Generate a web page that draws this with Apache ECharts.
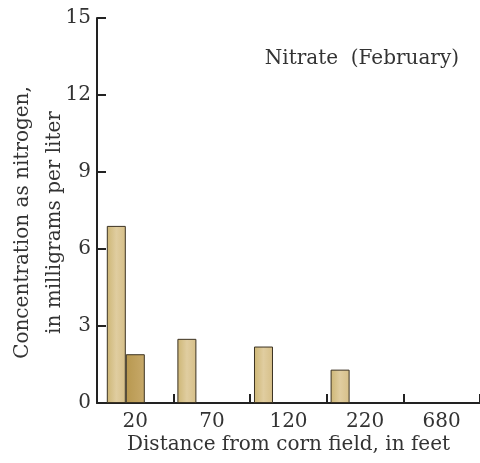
<!DOCTYPE html>
<html>
<head>
<meta charset="utf-8">
<script src="https://cdn.jsdelivr.net/npm/echarts@6/dist/echarts.min.js"></script>
<style>
html,body{margin:0;padding:0;background:#fff;}
#chart{width:480px;height:463px;}
</style>
</head>
<body>
<div id="chart"></div>
<script>
// Data
const categories = ['20', '70', '120', '220', '680'];
const lightValues = [6.9, 2.5, 2.2, 1.3, null];
const darkValues = [1.9, null, null, null, null];
const yMin = 0, yMax = 15, yInterval = 3;
const chartTitle = 'Nitrate  (February)';
const xName = 'Distance from corn field, in feet';
const yName = 'Concentration as nitrogen,\nin milligrams per liter';

const FONT = 'DejaVu Serif';
const FS = 20;
const TXT = '#333';
const AX = '#222';

const lightFill = new echarts.graphic.LinearGradient(0, 0, 1, 0, [
  {offset: 0, color: '#cdb675'},
  {offset: 0.5, color: '#e0cda0'},
  {offset: 1, color: '#d6bf88'}
]);
const darkFill = new echarts.graphic.LinearGradient(0, 0, 1, 0, [
  {offset: 0, color: '#b8984f'},
  {offset: 1, color: '#c7a96a'}
]);
const border = {borderColor: '#3b3222', borderWidth: 1};

const nulls = categories.map(() => null);
// first category has two samples laid out on a second (hidden) category axis
const light20 = lightValues.map((v, i) => i === 0 ? v : null);
const lightRest = lightValues.map((v, i) => i === 0 ? null : v);

const chart = echarts.init(document.getElementById('chart'), null, {renderer: 'canvas'});
chart.setOption({
  animation: false,
  backgroundColor: '#fff',
  title: {
    text: chartTitle,
    right: 16, top: 44,
    textStyle: {fontFamily: FONT, fontSize: FS, fontWeight: 'normal', color: TXT}
  },
  grid: {left: 97, right: 0, top: 18, bottom: 60, containLabel: false, outerBoundsMode: 'none'},
  xAxis: [
    {
      type: 'category', data: categories,
      name: xName, nameLocation: 'middle', nameGap: 32, nameMoveOverlap: false,
      nameTextStyle: {fontFamily: FONT, fontSize: FS, color: TXT},
      axisLine: {show: true, lineStyle: {color: AX, width: 2}},
      axisTick: {show: true, inside: true, length: 9, lineStyle: {color: AX, width: 2}},
      axisLabel: {fontFamily: FONT, fontSize: FS, color: TXT, margin: 9},
      splitLine: {show: false}
    },
    {
      type: 'category', data: categories, show: false, gridIndex: 0
    }
  ],
  yAxis: {
    type: 'value', min: yMin, max: yMax, interval: yInterval,
    name: yName, nameLocation: 'middle', nameGap: 26, nameMoveOverlap: false,
    nameTextStyle: {fontFamily: FONT, fontSize: FS, color: TXT, lineHeight: 32, padding: [0, 24, 0, 0]},
    axisLine: {show: true, lineStyle: {color: AX, width: 2}},
    axisTick: {show: true, inside: true, length: 9, lineStyle: {color: AX, width: 2}},
    axisLabel: {fontFamily: FONT, fontSize: FS, color: TXT, margin: 6},
    splitLine: {show: false}
  },
  series: [
    {type: 'bar', name: 'light-rest', xAxisIndex: 0, data: lightRest, barWidth: 19, barGap: '31.6%',
      itemStyle: Object.assign({color: lightFill}, border)},
    {type: 'bar', name: 'spacer1', xAxisIndex: 0, data: nulls, barWidth: 19, barGap: '31.6%', silent: true},
    {type: 'bar', name: 'spacer2', xAxisIndex: 0, data: nulls, barWidth: 19, barGap: '31.6%', silent: true},
    {type: 'bar', name: 'light-20', xAxisIndex: 1, data: light20, barWidth: 19, barGap: 0,
      itemStyle: Object.assign({color: lightFill}, border)},
    {type: 'bar', name: 'dark', xAxisIndex: 1, data: darkValues, barWidth: 19, barGap: 0,
      itemStyle: Object.assign({color: darkFill}, border)},
    {type: 'bar', name: 'spacer3', xAxisIndex: 1, data: nulls, barWidth: 19, barGap: 0, silent: true}
  ]
});
</script>
</body>
</html>
